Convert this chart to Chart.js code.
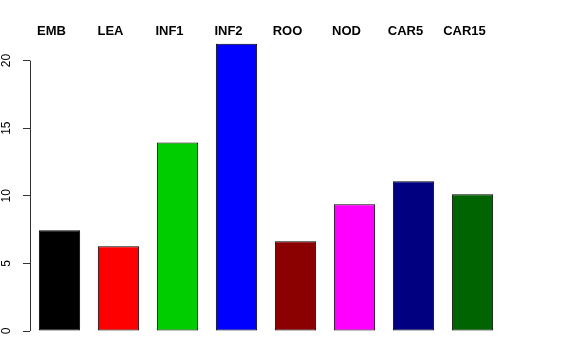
<!DOCTYPE html>
<html>
<head>
<meta charset="utf-8">
<script src="https://cdn.jsdelivr.net/npm/chart.js@4.4.0/dist/chart.umd.min.js"></script>
<style>
  body { margin: 0; background: #fff; }
  #wrap { width: 576px; height: 360px; }
</style>
</head>
<body>
<div id="wrap"><canvas id="myChart"></canvas></div>
<script>
const categories = ["EMB", "LEA", "INF1", "INF2", "ROO", "NOD", "CAR5", "CAR15"];
const values = [7.45, 6.27, 13.95, 21.25, 6.64, 9.37, 11.07, 10.11];
const barColors = ["#000000", "#FF0000", "#00CD00", "#0000FF", "#8B0000", "#FF00FF", "#000080", "#006400"];
const yTicks = [0, 5, 10, 15, 20];

const FONT = "'Liberation Sans', Arial, Helvetica, sans-serif";

// R draws the axis line only from the first to the last tick
const axisLine = {
  id: 'axisLine',
  afterDraw(chart) {
    const y = chart.scales.y;
    const ctx = chart.ctx;
    const x = Math.round(y.right) + 0.5;
    ctx.save();
    ctx.strokeStyle = '#333';
    ctx.lineWidth = 1;
    ctx.beginPath();
    ctx.moveTo(x, y.getPixelForValue(yTicks[0]));
    ctx.lineTo(x, y.getPixelForValue(yTicks[yTicks.length - 1]));
    ctx.stroke();
    ctx.restore();
  }
};

new Chart(document.getElementById('myChart'), {
  type: 'bar',
  data: {
    labels: categories,
    datasets: [{
      data: values,
      backgroundColor: barColors,
      borderColor: '#000',
      borderWidth: 1,
      borderSkipped: false,
      barPercentage: 0.7,
      categoryPercentage: 1
    }]
  },
  options: {
    responsive: true,
    maintainAspectRatio: false,
    animation: false,
    layout: { padding: { top: 21, right: 74, bottom: 29, left: 0 } },
    plugins: { legend: { display: false }, tooltip: { enabled: false } },
    scales: {
      x: {
        position: 'top',
        offset: true,
        grid: { display: false, drawTicks: false },
        border: { display: false },
        ticks: {
          padding: 3,
          labelOffset: -8,   // names sit a little left of the bar centres
          autoSkip: false,
          maxRotation: 0,
          color: '#000',
          font: { family: FONT, size: 13, weight: 'bold' }
        }
      },
      y: {
        min: 0,
        max: 21.33,
        afterBuildTicks: s => { s.ticks = yTicks.map(v => ({ value: v })); },
        afterFit: s => { s.width = 30; },
        border: { display: false },
        grid: { drawOnChartArea: false, drawTicks: true, tickLength: 7, color: '#333' },
        ticks: {
          minRotation: 90,
          maxRotation: 90,
          crossAlign: 'center',
          padding: 10,
          color: '#000',
          font: { family: FONT, size: 12 }
        }
      }
    }
  },
  plugins: [axisLine]
});
</script>
</body>
</html>
